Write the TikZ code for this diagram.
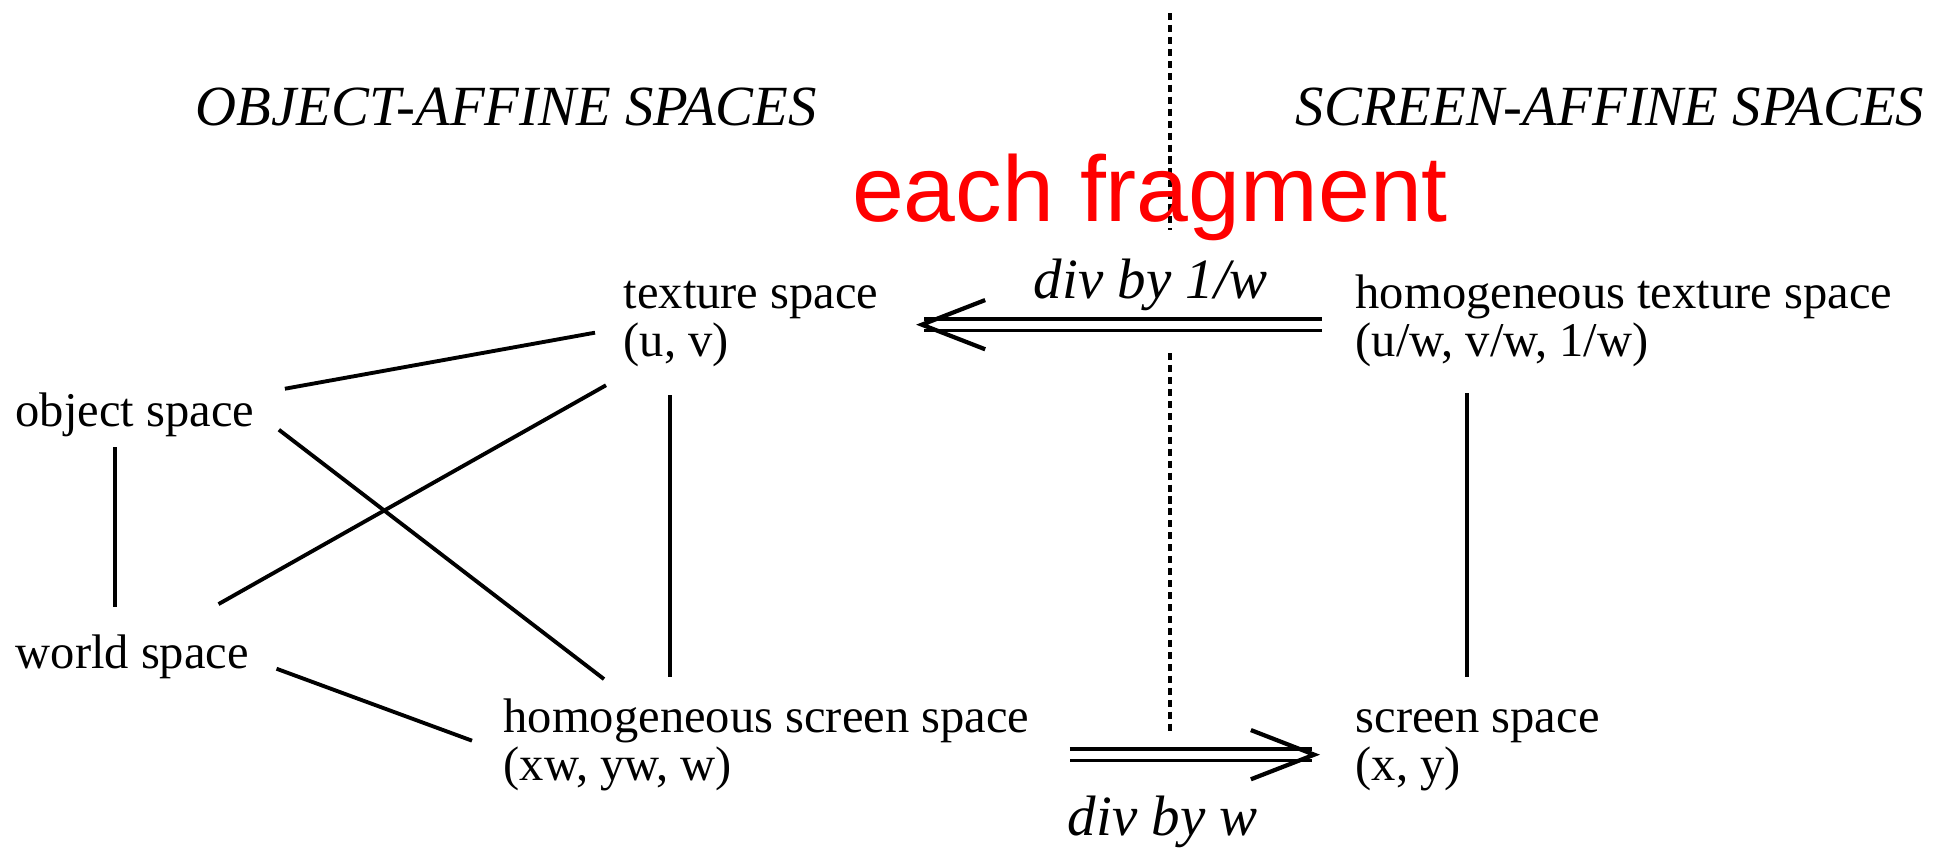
\documentclass[tikz,border=0pt]{standalone}
\usepackage{fontspec}
\setmainfont{Liberation Serif}
\newfontfamily\fragfont{Liberation Sans}
\usetikzlibrary{arrows.meta,calc}
\newcommand{\spacelbl}[1]{\begin{tabular}[t]{@{}l@{}}#1\end{tabular}}

\begin{document}
\begin{tikzpicture}[x=0.01cm,y=-0.01cm,>={Straight Barb[length=18pt,width=14pt,line width=1.2pt 0]},
  spacenode/.style={anchor=base west,inner sep=0pt,font=\fontsize{13.8}{13.9}\selectfont},
  heading/.style={anchor=base west,inner sep=0pt,font=\fontsize{16.15}{18}\selectfont\itshape},
  divlbl/.style={anchor=base west,inner sep=0pt,font=\fontsize{16.2}{19}\selectfont\itshape},
  link/.style={line width=1.1pt},
  divide/.style={line width=1.1pt,dash pattern=on 2pt off 1.4pt},
  conv/.style={->,line width=1.1pt,double,double distance=2.2pt}]
  \useasboundingbox (0,0) rectangle (1946,848);

  % headings and divider
  \node[heading] (objhead) at (195,125) {OBJECT-AFFINE SPACES};
  \node[heading] (scrhead) at (1295,125) {SCREEN-AFFINE SPACES};
  \draw[divide] (1170,13) -- (1170,230);
  \draw[divide] (1170,353) -- (1170,733);
  \node[anchor=base,inner sep=0pt,text=red,font=\fragfont\fontsize{26.5}{30}\selectfont] (frag) at (1150,221) {each fragment};

  % spaces
  \node[spacenode] (obj) at (15,426) {\spacelbl{object space}};
  \node[spacenode] (wld) at (15,668) {\spacelbl{world space}};
  \node[spacenode] (tex) at (623,308) {\spacelbl{texture space\\(u, v)}};
  \node[spacenode] (htex) at (1355,308) {\spacelbl{homogeneous texture space\\(u/w, v/w, 1/w)}};
  \node[spacenode] (hscr) at (503,732) {\spacelbl{homogeneous screen space\\(xw, yw, w)}};
  \node[spacenode] (scr) at (1355,732) {\spacelbl{screen space\\(x, y)}};

  % links
  \draw[link] ($(obj.east)+(30,-27.5)$) -- ($(tex.west)+(-28,10)$);
  \draw[link] ($(obj.east)+(24,13.5)$) -- ($(hscr.north west)+(101,-18)$);
  \draw[link] ($(wld.north east)+(-31,-29)$) -- ($(tex.south west)+(-17,13)$);
  \draw[link] ($(obj.south west)+(100,6)$) -- ($(wld.north west)+(100,-26)$);
  \draw[link] ($(wld.east)+(27,10.5)$) -- ($(hscr.west)+(-31,-6)$);
  \draw[link] ($(tex.south west)+(47,23)$) -- ($(hscr.north west)+(167,-20)$);
  \draw[link] ($(htex.south west)+(112,21)$) -- ($(scr.north west)+(112,-20)$);

  % divisions
  \draw[conv] ($(htex.west)+(-33,2)$) -- ($(tex.east)+(37,2)$);
  \draw[conv] ($(hscr.east)+(40,8)$) -- ($(scr.west)+(-35,8)$);
  \node[divlbl] (divtop) at (1033,298) {div by 1/w};
  \node[divlbl] (divbot) at (1067,835) {div by w};
\end{tikzpicture}
\end{document}
